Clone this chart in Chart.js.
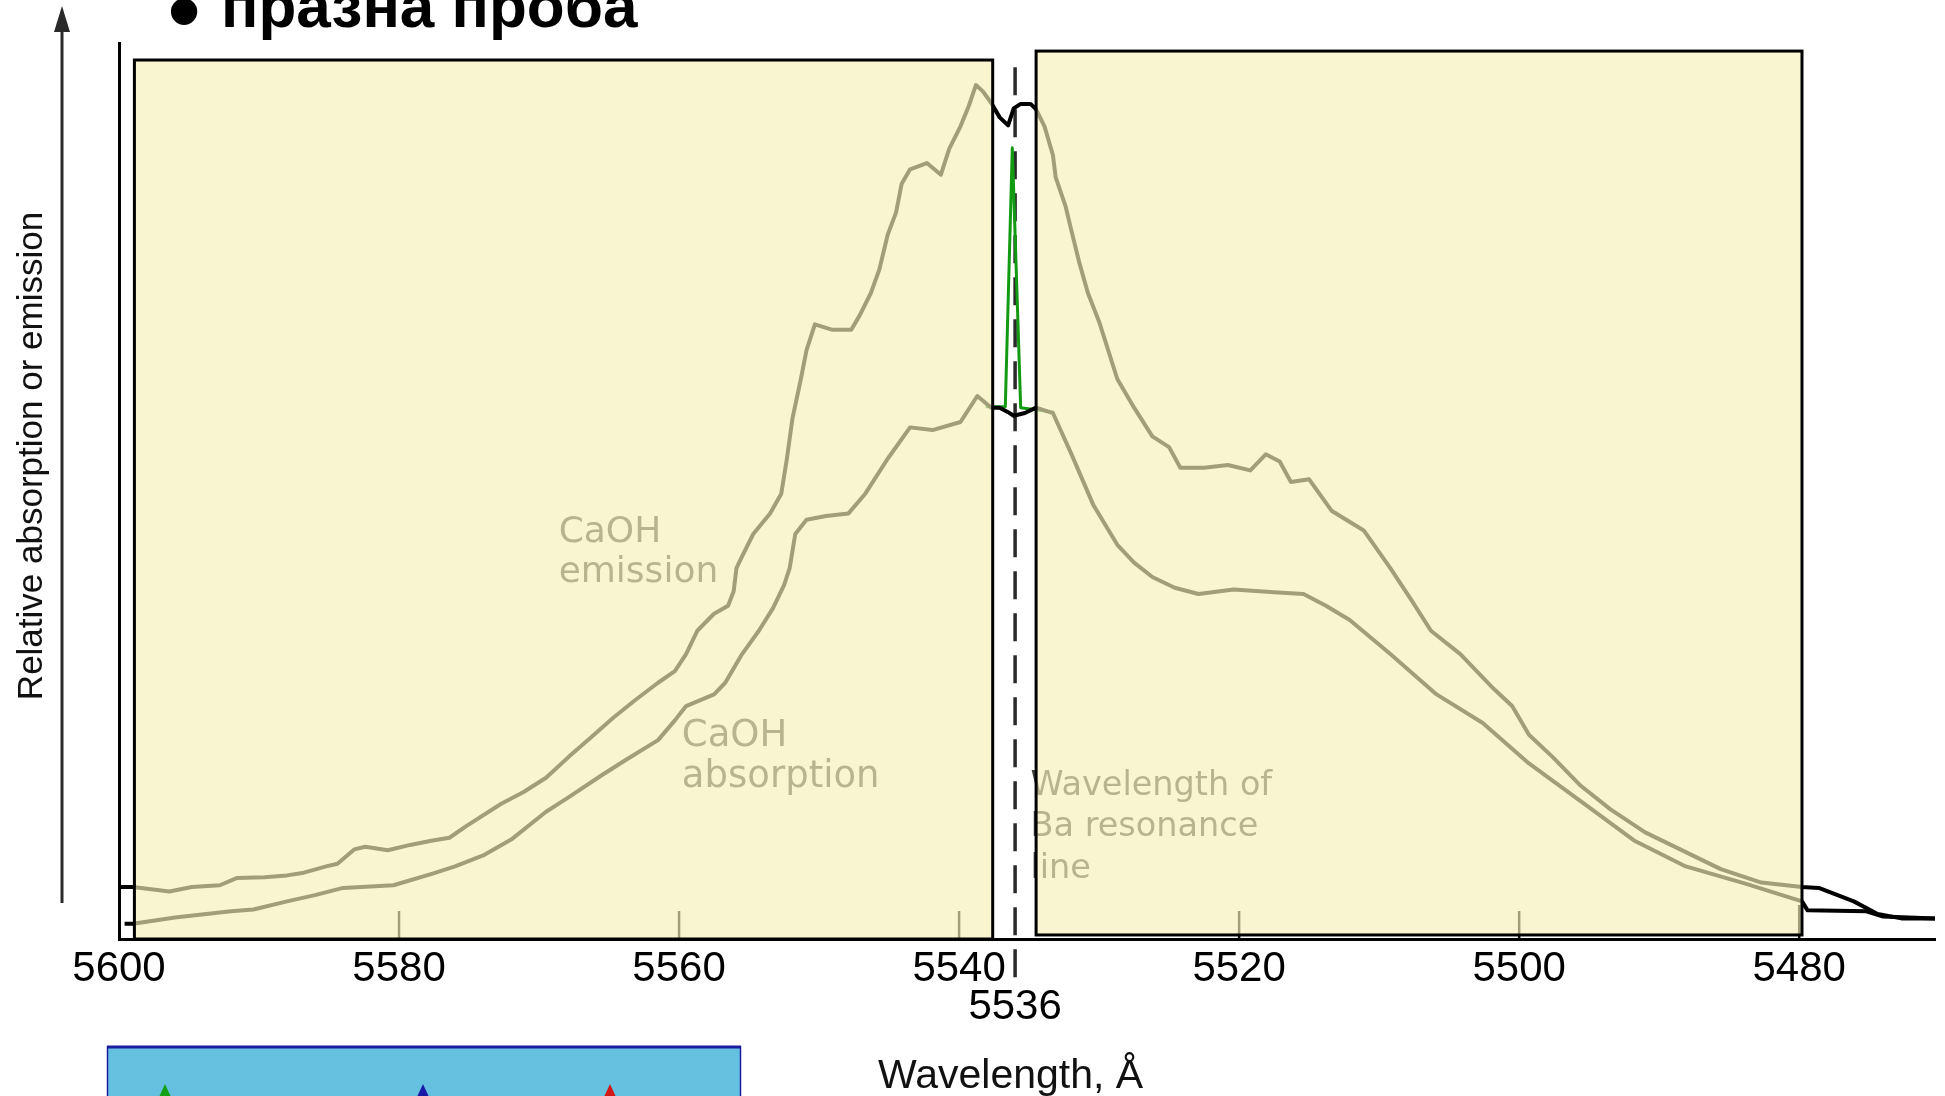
<!DOCTYPE html>
<html><head><meta charset="utf-8">
<script src="https://cdn.jsdelivr.net/npm/chart.js@4.4.1/dist/chart.umd.min.js"></script>
<style>html,body{margin:0;padding:0;background:#fff;overflow:hidden}canvas{display:block}</style>
</head><body>
<canvas id="c" width="1945" height="1096"></canvas>
<script>
// ---- data (wavelength in Å, relative signal 0..100) ----
const emissionWavelength = [5600.0, 5599.0, 5596.4, 5594.8, 5592.8, 5591.6, 5589.6, 5588.0, 5586.8, 5585.2, 5584.4, 5583.2, 5582.4, 5580.8, 5579.2, 5577.6, 5576.4, 5575.2, 5572.7, 5571.1, 5569.5, 5567.9, 5566.3, 5564.7, 5563.1, 5561.5, 5560.3, 5559.5, 5558.7, 5557.5, 5556.5, 5556.1, 5555.9, 5555.5, 5554.7, 5553.5, 5552.7, 5552.3, 5551.9, 5551.3, 5550.9, 5550.3, 5549.1, 5547.7, 5547.1, 5546.3, 5545.7, 5545.1, 5544.5, 5544.1, 5543.5, 5542.3, 5541.3, 5540.7, 5539.9, 5539.3, 5538.8, 5538.3, 5537.7, 5537.1, 5536.5, 5536.1, 5535.6, 5534.9, 5534.5, 5533.9, 5533.3, 5533.1, 5532.4, 5532.0, 5531.4, 5530.8, 5530.0, 5528.7, 5527.5, 5526.2, 5525.0, 5524.2, 5522.5, 5520.8, 5519.2, 5518.1, 5517.1, 5516.3, 5515.0, 5513.4, 5511.1, 5509.2, 5507.6, 5506.3, 5504.2, 5501.8, 5500.5, 5499.3, 5497.6, 5495.6, 5493.5, 5491.0, 5488.5, 5485.6, 5482.7, 5479.8, 5478.6, 5476.1, 5474.4, 5472.7, 5470.3];
const emissionValue = [5.8, 5.8, 5.3, 5.8, 6.0, 6.8, 6.9, 7.1, 7.4, 8.1, 8.4, 10.0, 10.3, 9.9, 10.5, 11.0, 11.3, 12.6, 15.1, 16.4, 18.0, 20.3, 22.5, 24.7, 26.7, 28.6, 29.9, 31.8, 34.4, 36.3, 37.2, 38.8, 41.4, 42.7, 45.2, 47.5, 49.7, 53.6, 58.1, 62.5, 65.7, 68.6, 68.0, 68.0, 69.6, 72.1, 74.7, 78.6, 81.1, 84.3, 85.9, 86.6, 85.3, 88.2, 90.7, 93.0, 95.3, 94.6, 93.3, 91.7, 90.8, 92.7, 93.2, 93.2, 92.6, 90.7, 87.5, 85.0, 81.8, 79.2, 75.4, 72.1, 68.9, 62.5, 59.3, 56.1, 54.9, 52.6, 52.6, 52.9, 52.3, 54.1, 53.3, 51.0, 51.3, 47.8, 45.6, 41.4, 37.6, 34.4, 31.8, 27.9, 26.0, 22.8, 20.3, 17.1, 14.5, 11.9, 10.0, 7.8, 6.3, 5.8, 5.7, 4.2, 2.8, 2.3, 2.3];

const absorptionWavelength = [5599.6, 5599.0, 5596.0, 5592.0, 5590.4, 5588.0, 5586.0, 5584.0, 5580.4, 5577.6, 5576.0, 5573.9, 5571.9, 5569.5, 5567.9, 5565.5, 5563.9, 5561.5, 5560.3, 5559.5, 5557.5, 5556.7, 5555.5, 5554.3, 5553.3, 5552.5, 5552.1, 5551.7, 5550.9, 5549.5, 5547.9, 5546.7, 5545.1, 5543.5, 5541.9, 5539.9, 5538.7, 5537.7, 5537.1, 5536.5, 5536.1, 5535.3, 5534.5, 5533.3, 5532.0, 5530.4, 5528.7, 5527.5, 5526.2, 5524.6, 5522.9, 5520.4, 5517.5, 5515.4, 5513.8, 5512.1, 5509.2, 5505.9, 5502.6, 5499.3, 5495.1, 5491.8, 5488.1, 5483.9, 5479.8, 5479.4, 5475.2, 5474.0, 5470.3];
const absorptionValue = [1.7, 1.7, 2.4, 3.1, 3.3, 4.2, 4.9, 5.7, 6.0, 7.3, 8.1, 9.4, 11.2, 14.2, 15.8, 18.3, 19.9, 22.2, 24.4, 26.0, 27.3, 28.6, 31.8, 34.4, 36.9, 39.5, 41.4, 45.2, 46.8, 47.2, 47.5, 49.7, 53.6, 57.1, 56.8, 57.7, 60.6, 59.3, 59.3, 58.8, 58.4, 58.7, 59.3, 58.7, 54.2, 48.4, 44.0, 42.0, 40.4, 39.2, 38.5, 39.0, 38.7, 38.5, 37.2, 35.6, 31.8, 27.3, 24.1, 19.6, 14.8, 11.0, 8.1, 6.2, 4.2, 3.2, 3.1, 2.5, 2.3];

const baLineWavelength = [5538.1, 5536.7, 5536.2, 5535.6, 5533.2];
const baLineValue = [59.4, 59.4, 88.3, 59.3, 58.8];

const baResonance = 5536;
const baMarkerSpan = [97.3, -5.2];

const tickValues = [5600, 5580, 5560, 5540, 5536, 5520, 5500, 5480];
const innerTickValues = [5580, 5560, 5540, 5520, 5500];
const outerTickValue = 5480;

const titleText = 'празна проба';
const yTitle = 'Relative absorption or emission';
const xTitle = 'Wavelength, Å';
const labelEmission = ['CaOH', 'emission'];
const labelAbsorption = ['CaOH', 'absorption'];
const labelBa = ['Wavelength of', 'Ba resonance', 'line'];

// ---- helpers ----
const pts = (xs, ys) => xs.map((x, i) => ({x, y: ys[i]}));
const SANS = '"Liberation Sans", Arial, Helvetica, sans-serif';
const WIDE = '"DejaVu Sans", Verdana, sans-serif';

// yellow overlay panels (value space)
const panels = [
  {x0: 5598.9, x1: 5537.6, top: 98.1, bottom: 0},
  {x0: 5534.5, x1: 5479.8, top: 99.1, bottom: 0.45}
];
// annotation anchors (value space) + font sizes
const notes = [
  {lines: labelEmission, x: 5568.6, y: 44.3, size: 36, lh: 40},
  {lines: labelAbsorption, x: 5559.8, y: 21.5, size: 37, lh: 41},
  {lines: labelBa, x: 5534.9, y: 16.1, size: 33.5, lh: 41.5}
];

const decor = {
  id: 'decor',
  beforeDatasetsDraw(chart) {
    const {ctx, scales: {x, y}} = chart;
    ctx.save();
    const y0 = y.getPixelForValue(0);
    ctx.strokeStyle = '#000';
    ctx.lineWidth = 2.5;
    innerTickValues.forEach(v => {
      const px = x.getPixelForValue(v);
      ctx.beginPath(); ctx.moveTo(px, y0); ctx.lineTo(px, y0 - 28); ctx.stroke();
    });
    const p5480 = x.getPixelForValue(outerTickValue);
    ctx.beginPath(); ctx.moveTo(p5480, y0); ctx.lineTo(p5480, y0 - 34); ctx.stroke();

    ctx.fillStyle = '#44443e';
    ctx.textAlign = 'left';
    ctx.textBaseline = 'alphabetic';
    notes.forEach(n => {
      ctx.font = n.size + 'px ' + WIDE;
      const px = x.getPixelForValue(n.x), py = y.getPixelForValue(n.y);
      n.lines.forEach((t, i) => ctx.fillText(t, px, py + i * n.lh));
    });
    ctx.restore();
  },
  afterDatasetsDraw(chart) {
    const {ctx, scales: {x, y}} = chart;
    ctx.save();
    panels.forEach(p => {
      const l = x.getPixelForValue(p.x0), r = x.getPixelForValue(p.x1);
      const t = y.getPixelForValue(p.top), b = y.getPixelForValue(p.bottom);
      ctx.fillStyle = 'rgba(244,240,184,0.66)';
      ctx.fillRect(l, t, r - l, b - t);
      ctx.strokeStyle = '#000';
      ctx.lineWidth = 3;
      ctx.strokeRect(l, t, r - l, b - t);
    });
    ctx.restore();
  },
  afterDraw(chart) {
    const {ctx} = chart;
    ctx.save();
    // slide title
    ctx.fillStyle = '#000';
    ctx.textBaseline = 'alphabetic';
    ctx.textAlign = 'left';
    ctx.font = 'bold 62px ' + SANS;
    ctx.fillText(titleText, 221, 27);
    ctx.font = 'bold 92px ' + SANS;
    ctx.textAlign = 'center';
    ctx.fillText('•', 184, 42);

    // y axis arrow
    ctx.strokeStyle = '#2a2a2a';
    ctx.fillStyle = '#2a2a2a';
    ctx.lineWidth = 3;
    ctx.beginPath(); ctx.moveTo(62, 903); ctx.lineTo(62, 28); ctx.stroke();
    ctx.beginPath(); ctx.moveTo(62, 6); ctx.lineTo(54, 32); ctx.lineTo(70, 32); ctx.closePath(); ctx.fill();

    // y title
    ctx.fillStyle = '#111';
    ctx.font = '35px ' + SANS;
    ctx.translate(42, 456);
    ctx.rotate(-Math.PI / 2);
    ctx.textAlign = 'center';
    ctx.fillText(yTitle, 0, 0);
    ctx.setTransform(1, 0, 0, 1, 0, 0);

    // x title
    ctx.textAlign = 'left';
    ctx.font = '41px ' + SANS;
    ctx.fillStyle = '#111';
    ctx.fillText(xTitle, 878, 1088);

    // blue panel at the bottom left
    ctx.fillStyle = '#66c0e0';
    ctx.fillRect(107, 1046, 634, 60);
    ctx.strokeStyle = '#1c1ca0';
    ctx.lineWidth = 3;
    ctx.beginPath(); ctx.moveTo(107, 1047); ctx.lineTo(741, 1047); ctx.stroke();
    ctx.lineWidth = 1.5;
    ctx.beginPath(); ctx.moveTo(107.5, 1046); ctx.lineTo(107.5, 1096); ctx.moveTo(740.5, 1046); ctx.lineTo(740.5, 1096); ctx.stroke();
    [[165, '#14a014'], [423, '#1a1aa8'], [610, '#d01818']].forEach(([cx, col]) => {
      ctx.fillStyle = col;
      ctx.beginPath(); ctx.moveTo(cx, 1084); ctx.lineTo(cx - 6, 1097); ctx.lineTo(cx + 6, 1097); ctx.closePath(); ctx.fill();
    });
    ctx.restore();
  }
};

new Chart(document.getElementById('c'), {
  type: 'line',
  data: {
    datasets: [
      {label: 'CaOH emission', data: pts(emissionWavelength, emissionValue), borderColor: '#000', borderWidth: 4},
      {label: 'CaOH absorption', data: pts(absorptionWavelength, absorptionValue), borderColor: '#000', borderWidth: 4},
      {label: 'Ba line', data: pts(baLineWavelength, baLineValue), borderColor: '#139a13', borderWidth: 3},
      {label: 'Ba resonance', data: baMarkerSpan.map(v => ({x: baResonance, y: v})), borderColor: '#2a2a2a', borderWidth: 3.5, borderDash: [28, 14], clip: false}
    ]
  },
  options: {
    responsive: false,
    animation: false,
    devicePixelRatio: 1,
    layout: {padding: {top: 43, right: 10, left: 0, bottom: 0}},
    plugins: {legend: {display: false}, tooltip: {enabled: false}},
    elements: {point: {radius: 0}, line: {tension: 0, borderCapStyle: 'butt', borderJoinStyle: 'round'}},
    scales: {
      x: {
        type: 'linear', reverse: true, min: 5470.3, max: 5600,
        afterBuildTicks: s => { s.ticks = tickValues.map(v => ({value: v})); },
        afterFit: s => { s.height = 157; },
        ticks: {
          autoSkip: false, maxRotation: 0, minRotation: 0, padding: 11, color: '#000',
          font: {family: SANS, size: 42, lineHeight: 0.905},
          callback: v => v === baResonance ? ['', String(v)] : String(v)
        },
        grid: {display: false, drawTicks: false},
        border: {display: true, color: '#000', width: 3}
      },
      y: {
        min: 0, max: 100,
        afterFit: s => { s.width = 119; },
        ticks: {display: false},
        grid: {display: false, drawTicks: false},
        border: {display: true, color: '#000', width: 3}
      }
    }
  },
  plugins: [decor]
});
</script>
</body></html>
